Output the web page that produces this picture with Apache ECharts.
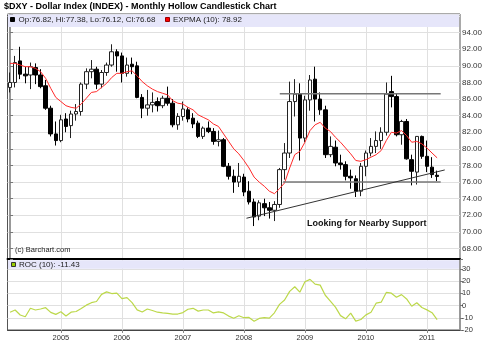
<!DOCTYPE html>
<html><head><meta charset="utf-8">
<script src="https://cdn.jsdelivr.net/npm/echarts@6/dist/echarts.min.js"></script>
<style>html,body{margin:0;padding:0;background:#fff}#c{width:489px;height:358px}</style>
</head><body><div id="c"></div>
<script>
// ---- categories (monthly, Mar 2004 .. Jul 2011; last 4 are empty space) ----
const months = ('2004-03 2004-04 2004-05 2004-06 2004-07 2004-08 2004-09 2004-10 2004-11 2004-12 ' +
 '2005-01 2005-02 2005-03 2005-04 2005-05 2005-06 2005-07 2005-08 2005-09 2005-10 2005-11 2005-12 ' +
 '2006-01 2006-02 2006-03 2006-04 2006-05 2006-06 2006-07 2006-08 2006-09 2006-10 2006-11 2006-12 ' +
 '2007-01 2007-02 2007-03 2007-04 2007-05 2007-06 2007-07 2007-08 2007-09 2007-10 2007-11 2007-12 ' +
 '2008-01 2008-02 2008-03 2008-04 2008-05 2008-06 2008-07 2008-08 2008-09 2008-10 2008-11 2008-12 ' +
 '2009-01 2009-02 2009-03 2009-04 2009-05 2009-06 2009-07 2009-08 2009-09 2009-10 2009-11 2009-12 ' +
 '2010-01 2010-02 2010-03 2010-04 2010-05 2010-06 2010-07 2010-08 2010-09 2010-10 2010-11 2010-12 ' +
 '2011-01 2011-02 2011-03 2011-04 2011-05 2011-06 2011-07').split(' ');

// ---- monthly OHLC ----
const opens = [87.4,88.0,90.6,89.0,88.9,89.8,88.9,87.6,84.9,81.8,
 81.0,83.6,82.8,84.2,84.5,87.8,89.3,89.6,87.8,89.2,90.1,91.7,
 91.2,89.1,90.2,90.0,86.2,84.9,85.3,85.7,85.2,86.1,85.5,82.9,
 83.9,84.7,83.7,83.1,81.5,82.5,82.1,80.9,81.1,77.9,76.7,76.0,
 76.6,74.9,73.6,71.9,73.4,72.9,72.6,73.3,77.5,79.5,85.7,86.6,
 81.3,85.9,88.4,86.0,84.7,79.3,80.2,78.3,78.1,76.7,76.4,74.9,
 77.9,79.5,80.3,81.0,82.0,86.9,86.3,81.7,83.3,78.7,77.2,81.5,
 79.1,77.8,76.82];
const highs = [89.2,91.2,92.3,89.9,90.4,90.3,89.6,88.3,85.2,83.3,
 84.1,84.3,84.6,85.4,88.0,89.7,90.7,89.9,89.5,90.4,92.6,92.0,
 91.6,91.0,91.0,90.5,86.6,87.1,86.8,86.2,86.4,87.5,86.0,84.3,
 85.7,85.0,84.3,83.4,82.7,83.3,82.5,82.2,81.3,78.3,77.5,78.3,
 77.0,76.1,74.0,73.8,74.0,73.6,73.7,77.7,80.7,88.1,88.4,87.9,
 86.4,88.9,89.9,86.8,85.2,81.5,81.0,79.3,78.5,77.5,76.8,78.3,
 79.8,81.3,82.1,82.6,88.0,88.8,86.7,83.5,83.6,79.3,81.5,81.6,
 81.0,79.0,77.38];
const lows = [86.8,87.4,88.4,87.9,87.2,87.8,87.3,84.7,81.5,80.4,
 80.8,82.0,81.3,83.4,84.0,87.2,88.5,87.2,87.3,88.8,89.9,89.3,
 88.0,88.7,89.0,86.1,83.7,84.0,84.4,84.5,84.9,85.2,82.6,82.3,
 83.4,83.2,82.5,81.3,81.2,81.9,80.5,80.3,77.8,76.3,74.7,75.4,
 74.3,73.3,70.7,71.4,71.9,71.6,71.3,72.9,76.3,78.9,83.9,78.6,
 80.8,84.6,83.3,84.1,78.9,79.0,77.9,77.5,76.2,75.2,74.2,74.3,
 76.7,79.1,79.5,80.0,81.6,85.0,81.5,80.5,78.7,75.6,75.7,78.8,
 77.2,76.5,76.12];
const closes = [88.0,90.4,89.0,88.8,89.9,88.9,87.5,84.9,81.8,81.0,
 83.5,82.7,84.2,84.5,87.8,89.3,89.6,87.8,89.2,90.1,91.7,91.2,
 89.1,90.1,89.9,86.2,84.9,85.3,85.6,85.2,86.1,85.5,82.9,83.9,
 84.8,83.6,83.0,81.5,82.5,82.1,80.9,81.1,77.9,76.7,76.0,76.7,
 74.8,73.6,71.8,73.5,72.9,72.6,73.3,77.5,79.5,85.7,86.6,81.3,
 85.9,88.3,86.0,84.7,79.3,80.3,78.3,78.1,76.7,76.5,74.9,77.9,
 79.5,80.3,81.0,82.0,86.6,86.3,81.7,83.3,78.8,77.3,81.5,79.1,
 77.9,76.9,76.68];

// ---- EXPMA(10) ----
const expma = [90.3,90.3,90.1,89.9,89.9,89.7,89.3,88.5,87.3,86.2,
 85.7,85.2,85.0,84.9,85.4,86.1,86.8,86.9,87.4,87.9,88.6,89.1,
 89.1,89.3,89.4,88.8,88.1,87.6,87.2,86.9,86.7,86.5,85.8,85.5,
 85.4,85.0,84.7,84.1,83.8,83.5,83.0,82.7,81.8,80.9,80.0,79.4,
 78.6,77.7,76.6,76.0,75.5,74.9,74.6,75.2,75.9,77.7,79.3,79.7,
 80.8,82.2,82.9,83.2,82.5,82.1,81.4,80.8,80.1,79.4,78.6,78.5,
 78.7,79.0,79.3,79.8,81.0,82.0,81.9,82.2,81.6,80.8,80.9,80.6,
 80.1,79.5,78.92];

// ---- ROC(10) ----
const roc = [-5.5,-3.6,-7.7,-9.1,-2.2,-3.6,-2.8,-1.7,-5.5,-7.2,
 -5.1,-8.5,-5.4,-4.8,-2.3,0.4,2.4,3.4,9.2,11.3,9.9,10.3,
 5.8,6.6,2.4,-3.5,-5.2,-2.8,-4.0,-5.4,-6.0,-6.3,-7.0,-6.9,
 -5.7,-3.0,-2.2,-4.5,-3.6,-3.6,-6.0,-5.1,-6.0,-8.6,-10.4,-8.3,
 -9.9,-9.7,-12.8,-10.5,-9.9,-10.2,-5.9,1.0,4.6,11.7,15.5,11.0,
 19.6,21.5,17.6,16.8,8.5,3.7,-1.2,-8.2,-10.8,-6.1,-12.7,-11.4,
 -7.6,-5.4,2.0,2.8,10.8,10.2,6.8,9.0,5.5,-0.5,2.4,-1.5,
 -3.5,-5.8,-11.43];

// ---- drawn annotation lines (month index, value) ----
const resistX = [53.05, 84.7], resistY = [86.65, 86.65];
const supportX = [53.7, 84.7], supportY = [76.0, 76.0];
const trendX = [46.5, 85.5], trendY = [71.64, 77.46];

const title = '$DXY - Dollar Index (INDEX) - Monthly Hollow Candlestick Chart';
const note = 'Looking for Nearby Support';
const credit = '(c) Barchart.com';

const last = closes.length - 1;
const candles = opens.map((o, i) => [o, closes[i], lows[i], highs[i]]);
const pair = (xs, ys) => xs.map((x, i) => [x, ys[i]]);
const FONT = '"Liberation Sans", Arial, sans-serif';
const isJan = (i, v) => String(v).slice(5) === '01';
const GRID = '#e0e0e0';

const legendMain = 'Op:' + opens[last].toFixed(2) + ', Hi:' + highs[last].toFixed(2) +
  ', Lo:' + lows[last].toFixed(2) + ', Cl:' + closes[last].toFixed(2);
const legendEma = 'EXPMA (10): ' + expma[last].toFixed(2);
const legendRoc = 'ROC (10): ' + roc[last].toFixed(2);

const chart = echarts.init(document.getElementById('c'), null, {renderer: 'canvas'});
chart.setOption({
  animation: false,
  backgroundColor: '#fff',
  textStyle: {fontFamily: FONT},
  grid: [
    {left: 7.5, right: 29, top: 14, bottom: 99, show: true, borderColor: '#555', borderWidth: 1, containLabel: false, outerBoundsMode: 'none'},
    {left: 7.5, right: 29, top: 259.3, bottom: 28, show: true, borderColor: '#555', borderWidth: 1, containLabel: false, outerBoundsMode: 'none'}
  ],
  xAxis: [
    {type: 'category', gridIndex: 0, data: months, boundaryGap: true,
     axisLine: {show: true, onZero: false, lineStyle: {color: '#000', width: 2}},
     axisTick: {show: false}, axisLabel: {show: false},
     splitLine: {show: true, interval: isJan, alignWithLabel: true, lineStyle: {color: GRID, width: 1}}},
    {type: 'value', gridIndex: 0, min: -0.5, max: 88.5, show: false},
    {type: 'category', gridIndex: 1, data: months, boundaryGap: true,
     axisLine: {show: true, onZero: false, lineStyle: {color: '#444', width: 1}},
     axisTick: {show: true, interval: isJan, alignWithLabel: true, length: 3, lineStyle: {color: '#888'}},
     axisLabel: {show: true, interval: isJan, formatter: v => v.slice(0, 4), fontSize: 7.5, color: '#333', margin: 4, fontFamily: FONT},
     splitLine: {show: true, interval: isJan, alignWithLabel: true, lineStyle: {color: GRID, width: 1}}}
  ],
  yAxis: [
    {type: 'value', gridIndex: 0, position: 'right', min: 66.73, max: 96.25,
     splitNumber: 15, minInterval: 2, maxInterval: 2, scale: true,
     axisLine: {show: true, lineStyle: {color: '#999', width: 2}},
     axisTick: {show: true, length: 3, lineStyle: {color: '#777'}},
     axisLabel: {fontSize: 8, color: '#333', margin: 2, fontFamily: FONT,
       formatter: v => (v >= 67.5 && v <= 94.5) ? v.toFixed(2) : ''},
     splitLine: {show: true, lineStyle: {color: GRID, width: 1}}},
    {type: 'value', gridIndex: 1, position: 'right', min: -20, max: 38, interval: 10,
     axisLine: {show: true, lineStyle: {color: '#999', width: 2}},
     axisTick: {show: true, length: 3, lineStyle: {color: '#777'}},
     axisLabel: {fontSize: 7.5, color: '#333', margin: 2, fontFamily: FONT,
       formatter: v => (v <= 30) ? String(v) : ''},
     splitLine: {show: true, lineStyle: {color: GRID, width: 1}}}
  ],
  series: [
    {type: 'candlestick', xAxisIndex: 0, yAxisIndex: 0, data: candles, barWidth: 4,
     itemStyle: {color: '#fff', color0: '#000', borderColor: '#222', borderColor0: '#000', borderWidth: 1},
     markLine: {silent: true, symbol: 'none', animation: false,
       data: [{yAxis: closes[last]}],
       lineStyle: {opacity: 0},
       label: {show: true, position: 'end', distance: 3, formatter: closes[last].toFixed(2),
         backgroundColor: '#000', color: '#fff', fontSize: 8, padding: [1, 1, 0, 1], fontFamily: FONT}}},
    {type: 'line', xAxisIndex: 0, yAxisIndex: 0, data: expma, showSymbol: false, symbol: 'none',
     lineStyle: {color: '#ff2a2a', width: 1}, z: 3},
    {type: 'line', xAxisIndex: 1, yAxisIndex: 0, data: pair(resistX, resistY), symbol: 'none',
     lineStyle: {color: '#777', width: 1.5}, z: 4},
    {type: 'line', xAxisIndex: 1, yAxisIndex: 0, data: pair(supportX, supportY), symbol: 'none',
     lineStyle: {color: '#777', width: 1.5}, z: 4},
    {type: 'line', xAxisIndex: 1, yAxisIndex: 0, data: pair(trendX, trendY), symbol: 'none',
     lineStyle: {color: '#333', width: 1}, z: 4},
    {type: 'line', xAxisIndex: 2, yAxisIndex: 1, data: roc, showSymbol: false, symbol: 'none',
     lineStyle: {color: '#bcd84a', width: 1.2}}
  ],
  graphic: [
    {type: 'text', x: 4, y: 7, silent: true,
     style: {text: title, fontSize: 9, fontWeight: 'bold', fontFamily: FONT, fill: '#000', verticalAlign: 'middle'}},
    {type: 'rect', silent: true, z: 10, shape: {x: 8, y: 14.5, width: 451, height: 12.5}, style: {fill: '#e6e6fa'}},
    {type: 'rect', silent: true, z: 11, shape: {x: 10.5, y: 17.5, width: 4, height: 4}, style: {fill: '#000', stroke: '#000', lineWidth: 1}},
    {type: 'text', silent: true, z: 11, x: 18.5, y: 20, style: {text: legendMain, fontSize: 8, fontFamily: FONT, fill: '#222', verticalAlign: 'middle'}},
    {type: 'rect', silent: true, z: 11, shape: {x: 165.5, y: 17.5, width: 4, height: 4}, style: {fill: '#f00', stroke: '#900', lineWidth: 1}},
    {type: 'text', silent: true, z: 11, x: 173, y: 20, style: {text: legendEma, fontSize: 8, fontFamily: FONT, fill: '#222', verticalAlign: 'middle'}},
    {type: 'text', silent: true, z: 11, x: 15, y: 250, style: {text: credit, fontSize: 7.5, fontFamily: FONT, fill: '#222', verticalAlign: 'middle'}},
    {type: 'text', silent: true, z: 11, x: 307, y: 224, style: {text: note, fontSize: 9, fontWeight: 'bold', fontFamily: FONT, fill: '#111', verticalAlign: 'middle'}},
    {type: 'rect', silent: true, z: 10, shape: {x: 8, y: 260.3, width: 451, height: 8.5}, style: {fill: '#e6e6fa'}},
    {type: 'rect', silent: true, z: 11, shape: {x: 11.5, y: 262.5, width: 4, height: 4}, style: {fill: '#9c0', stroke: '#333', lineWidth: 1}},
    {type: 'text', silent: true, z: 11, x: 19, y: 264.5, style: {text: legendRoc, fontSize: 8, fontFamily: FONT, fill: '#222', verticalAlign: 'middle'}}
  ]
});
</script>
</body></html>
